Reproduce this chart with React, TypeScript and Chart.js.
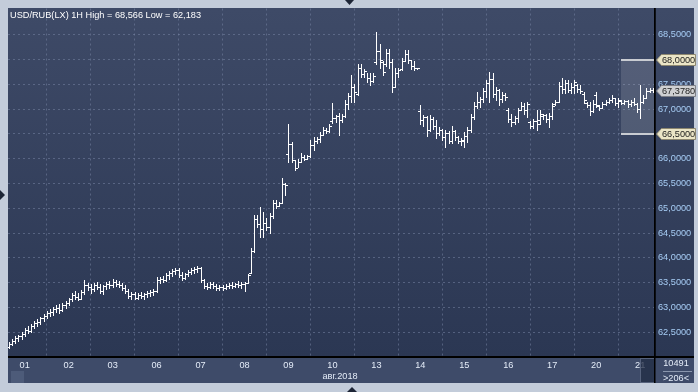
import { useEffect, useRef } from 'react';
import { Chart, registerables } from 'chart.js';

Chart.register(...registerables);

// ---------- data ----------
const titleText = 'USD/RUB(LX) 1H High = 68,566 Low = 62,183';
const monthLabel = 'авг.2018';
const dayLabels = ['01', '02', '03', '06', '07', '08', '09', '10', '13', '14', '15', '16', '17', '20', '21'];
const dayStartIndex = [5, 19, 33, 47, 61, 75, 89, 103, 117, 131, 145, 159, 173, 187, 201];
const yTicks = [62.5, 63.0, 63.5, 64.0, 64.5, 65.0, 65.5, 66.0, 66.5, 67.0, 67.5, 68.0, 68.5];
const rangeLevels = [68.0, 66.5];
const rangeStartIndex = 194.9;
const lastPrice = 67.378;
const barsTotal = '10491';
const barsVisible = '>206<';

const opens = [
  62.20, 62.26, 62.33, 62.38, 62.42,
  62.46, 62.55, 62.52, 62.63, 62.68, 62.70, 62.78, 62.82, 62.88, 62.90, 62.96, 62.99, 62.94, 63.04,
  63.08, 63.16, 63.26, 63.22, 63.18, 63.32, 63.46, 63.42, 63.38, 63.46, 63.42, 63.34, 63.44, 63.48,
  63.46, 63.52, 63.48, 63.46, 63.40, 63.34, 63.24, 63.28, 63.20, 63.26, 63.24, 63.28, 63.30, 63.32,
  63.34, 63.56, 63.58, 63.56, 63.66, 63.70, 63.74, 63.76, 63.66, 63.60, 63.68, 63.72, 63.76, 63.78,
  63.80, 63.56, 63.44, 63.42, 63.48, 63.44, 63.40, 63.42, 63.40, 63.44, 63.46, 63.44, 63.48, 63.46,
  63.48, 63.50, 63.70, 64.14, 64.78, 64.68, 64.58, 64.70, 64.62, 64.84, 65.10, 65.04, 65.10, 65.50,
  66.10, 66.30, 65.98, 65.82, 65.94, 66.04, 66.00, 66.06, 66.28, 66.36, 66.40, 66.48, 66.58, 66.56,
  66.76, 66.82, 66.86, 66.78, 66.86, 67.10, 67.26, 67.44, 67.30, 67.84, 67.70, 67.76, 67.62, 67.56,
  67.96, 68.18, 67.96, 67.92, 68.14, 67.96, 67.44, 67.72, 67.80, 67.98, 68.12, 68.00, 67.88, 67.83,
  66.96, 66.78, 66.84, 66.58, 66.80, 66.66, 66.52, 66.58, 66.44, 66.52, 66.36, 66.56, 66.44, 66.36,
  66.36, 66.46, 66.58, 66.84, 67.06, 67.14, 67.20, 67.36, 67.52, 67.60, 67.30, 67.38, 67.20, 67.28,
  66.98, 66.80, 66.74, 66.82, 66.98, 67.06, 66.98, 66.74, 66.66, 66.76, 66.78, 66.86, 66.88, 66.80,
  66.86, 67.10, 67.14, 67.46, 67.40, 67.52, 67.38, 67.44, 67.48, 67.40, 67.30, 67.12, 67.08, 66.96,
  67.28, 67.06, 67.02, 67.10, 67.14, 67.18, 67.22, 67.12, 67.16, 67.12, 67.16, 67.10, 67.14, 67.10,
  67.00, 67.14, 67.22, 67.36, 67.38,
];
const highs = [
  62.30, 62.36, 62.42, 62.45, 62.50,
  62.58, 62.62, 62.66, 62.72, 62.76, 62.80, 62.86, 62.92, 62.96, 63.00, 63.04, 63.06, 63.08, 63.12,
  63.20, 63.30, 63.34, 63.30, 63.36, 63.56, 63.50, 63.48, 63.50, 63.52, 63.48, 63.46, 63.52, 63.54,
  63.58, 63.56, 63.54, 63.50, 63.46, 63.38, 63.32, 63.32, 63.30, 63.32, 63.30, 63.34, 63.36, 63.38,
  63.62, 63.62, 63.64, 63.70, 63.74, 63.78, 63.80, 63.80, 63.72, 63.70, 63.76, 63.80, 63.82, 63.84,
  63.82, 63.58, 63.50, 63.52, 63.52, 63.48, 63.46, 63.46, 63.48, 63.50, 63.52, 63.50, 63.54, 63.52,
  63.52, 63.68, 64.20, 64.86, 64.86, 65.02, 64.92, 64.80, 64.90, 65.16, 65.16, 65.12, 65.62, 65.52,
  66.71, 66.33, 65.98, 65.99, 66.12, 66.08, 66.08, 66.37, 66.43, 66.43, 66.53, 66.63, 66.61, 66.71,
  67.12, 66.88, 66.93, 66.91, 67.18, 67.32, 67.68, 67.50, 67.92, 67.92, 67.82, 67.72, 67.72, 67.72,
  68.566, 68.32, 67.98, 68.22, 68.22, 68.02, 67.84, 67.84, 68.04, 68.20, 68.20, 68.00, 67.98, 67.84,
  67.08, 66.88, 66.86, 66.88, 66.84, 66.78, 66.64, 66.60, 66.58, 66.56, 66.66, 66.58, 66.46, 66.42,
  66.53, 66.63, 66.91, 67.14, 67.34, 67.24, 67.42, 67.58, 67.74, 67.72, 67.44, 67.40, 67.34, 67.32,
  67.02, 66.91, 66.87, 67.02, 67.14, 67.12, 67.14, 66.77, 66.81, 66.98, 66.98, 66.91, 66.91, 66.93,
  67.12, 67.18, 67.54, 67.62, 67.58, 67.58, 67.52, 67.58, 67.50, 67.48, 67.34, 67.14, 67.14, 67.18,
  67.34, 67.08, 67.14, 67.18, 67.22, 67.28, 67.22, 67.22, 67.18, 67.18, 67.18, 67.18, 67.22, 67.12,
  67.48, 67.28, 67.42, 67.42, 67.42,
];
const lows = [
  62.183, 62.24, 62.28, 62.33, 62.36,
  62.42, 62.48, 62.50, 62.58, 62.62, 62.66, 62.72, 62.78, 62.82, 62.84, 62.90, 62.88, 62.92, 62.98,
  63.04, 63.12, 63.18, 63.14, 63.16, 63.28, 63.36, 63.30, 63.34, 63.38, 63.30, 63.28, 63.38, 63.40,
  63.42, 63.44, 63.42, 63.36, 63.30, 63.20, 63.18, 63.16, 63.16, 63.20, 63.18, 63.22, 63.24, 63.26,
  63.32, 63.50, 63.52, 63.54, 63.58, 63.64, 63.68, 63.62, 63.56, 63.58, 63.64, 63.68, 63.70, 63.72,
  63.52, 63.40, 63.38, 63.40, 63.40, 63.36, 63.36, 63.36, 63.38, 63.40, 63.40, 63.42, 63.42, 63.40,
  63.34, 63.50, 63.70, 64.12, 64.62, 64.42, 64.42, 64.56, 64.50, 64.80, 65.00, 65.04, 65.10, 65.26,
  65.93, 65.93, 65.77, 65.83, 65.93, 65.97, 65.99, 66.04, 66.17, 66.31, 66.33, 66.47, 66.51, 66.53,
  66.72, 66.74, 66.47, 66.74, 66.84, 67.00, 67.14, 67.14, 67.28, 67.64, 67.64, 67.54, 67.48, 67.54,
  67.92, 67.84, 67.68, 67.88, 67.84, 67.34, 67.44, 67.64, 67.78, 67.98, 67.94, 67.82, 67.78, 67.82,
  66.70, 66.66, 66.46, 66.56, 66.60, 66.42, 66.48, 66.38, 66.24, 66.32, 66.32, 66.38, 66.32, 66.28,
  66.23, 66.33, 66.53, 66.81, 67.02, 67.04, 67.14, 67.24, 67.14, 67.24, 67.18, 67.08, 67.14, 67.18,
  66.74, 66.67, 66.71, 66.74, 66.98, 66.91, 66.84, 66.61, 66.62, 66.57, 66.70, 66.81, 66.74, 66.63,
  66.81, 67.08, 67.14, 67.32, 67.32, 67.34, 67.32, 67.32, 67.34, 67.32, 67.12, 67.04, 66.88, 66.94,
  67.04, 66.98, 67.02, 67.08, 67.12, 67.14, 67.08, 67.04, 67.10, 67.10, 67.04, 67.06, 67.08, 66.94,
  66.83, 67.12, 67.22, 67.34, 67.34,
];
const closes = [
  62.26, 62.33, 62.38, 62.42, 62.46,
  62.55, 62.52, 62.63, 62.68, 62.70, 62.78, 62.82, 62.88, 62.90, 62.96, 62.99, 62.94, 63.04, 63.08,
  63.16, 63.26, 63.22, 63.18, 63.32, 63.46, 63.42, 63.38, 63.46, 63.42, 63.34, 63.44, 63.48, 63.46,
  63.52, 63.48, 63.46, 63.40, 63.34, 63.24, 63.28, 63.20, 63.26, 63.24, 63.28, 63.30, 63.32, 63.34,
  63.56, 63.58, 63.56, 63.66, 63.70, 63.74, 63.76, 63.66, 63.60, 63.68, 63.72, 63.76, 63.78, 63.80,
  63.56, 63.44, 63.42, 63.48, 63.44, 63.40, 63.42, 63.40, 63.44, 63.46, 63.44, 63.48, 63.46, 63.48,
  63.50, 63.66, 64.14, 64.78, 64.68, 64.58, 64.70, 64.62, 64.84, 65.10, 65.04, 65.10, 65.50, 65.46,
  66.30, 65.98, 65.82, 65.94, 66.04, 66.00, 66.06, 66.28, 66.36, 66.40, 66.48, 66.58, 66.56, 66.66,
  66.82, 66.86, 66.78, 66.86, 67.10, 67.26, 67.44, 67.34, 67.84, 67.70, 67.76, 67.62, 67.56, 67.66,
  68.18, 68.00, 67.74, 68.14, 67.96, 67.44, 67.72, 67.78, 67.98, 68.12, 68.00, 67.88, 67.84, 67.83,
  66.78, 66.84, 66.58, 66.80, 66.66, 66.52, 66.58, 66.44, 66.52, 66.36, 66.56, 66.44, 66.36, 66.38,
  66.46, 66.58, 66.84, 67.06, 67.14, 67.20, 67.36, 67.52, 67.60, 67.30, 67.38, 67.20, 67.28, 67.24,
  66.80, 66.74, 66.82, 66.98, 67.06, 66.98, 67.10, 66.66, 66.76, 66.70, 66.90, 66.88, 66.80, 66.86,
  67.06, 67.14, 67.46, 67.40, 67.52, 67.38, 67.44, 67.54, 67.40, 67.36, 67.18, 67.08, 66.96, 67.10,
  67.08, 67.02, 67.10, 67.14, 67.18, 67.22, 67.12, 67.18, 67.12, 67.16, 67.10, 67.14, 67.10, 67.00,
  67.14, 67.22, 67.36, 67.38, 67.378,
];

// ---------- helpers ----------
const FONT = '"Liberation Sans", Arial, sans-serif';
const fmt4 = (v: number) => v.toFixed(4).replace('.', ',');

function drawTag(ctx: CanvasRenderingContext2D, y: number, text: string, fill: string, stroke: string) {
  const x0 = 656.5, x1 = 661.5, x2 = 695.5, h = 11;
  const t = Math.round(y - h / 2) + 0.5;
  const b = t + h;
  const m = (t + b) / 2;
  ctx.beginPath();
  ctx.moveTo(x0, m);
  ctx.lineTo(x1, t);
  ctx.lineTo(x2, t);
  ctx.lineTo(x2, b);
  ctx.lineTo(x1, b);
  ctx.closePath();
  ctx.fillStyle = fill;
  ctx.fill();
  ctx.strokeStyle = stroke;
  ctx.lineWidth = 1;
  ctx.stroke();
  ctx.fillStyle = '#1c1c1c';
  ctx.font = `9.2px ${FONT}`;
  ctx.textAlign = 'left';
  ctx.textBaseline = 'middle';
  ctx.fillText(text, 662, m + 0.5);
}

const backgroundPlugin = {
  id: 'terminalBackground',
  beforeDraw(chart: any) {
    const { ctx, chartArea } = chart;
    const W = chart.width, H = chart.height;
    ctx.save();
    ctx.fillStyle = '#c3ccda';
    ctx.fillRect(0, 0, W, H);
    const g = ctx.createLinearGradient(0, chartArea.top, 0, chartArea.bottom);
    g.addColorStop(0, '#3e4a67');
    g.addColorStop(1, '#2b3753');
    ctx.fillStyle = g;
    ctx.fillRect(8, 8, 686, chartArea.bottom - 8);
    ctx.fillStyle = '#3e4b69';
    ctx.fillRect(8, chartArea.bottom, 686, 383 - chartArea.bottom);
    ctx.restore();
  },
};

const ohlcPlugin = {
  id: 'ohlcBars',
  afterDatasetsDraw(chart: any) {
    const { ctx, chartArea, scales } = chart;
    const xs = scales.x, ys = scales.y;
    ctx.save();
    ctx.beginPath();
    ctx.rect(chartArea.left, chartArea.top, chartArea.width, chartArea.height);
    ctx.clip();
    ctx.fillStyle = '#ffffff';
    for (let i = 0; i < highs.length; i++) {
      const x = Math.round(xs.getPixelForValue(i));
      const yh = Math.round(ys.getPixelForValue(highs[i]));
      const yl = Math.round(ys.getPixelForValue(lows[i]));
      const yo = Math.round(ys.getPixelForValue(opens[i]));
      const yc = Math.round(ys.getPixelForValue(closes[i]));
      ctx.fillRect(x, yh, 1, Math.max(1, yl - yh + 1));
      ctx.fillRect(x - 2, yo, 2, 1);
      ctx.fillRect(x + 1, yc, 2, 1);
    }
    ctx.restore();
  },
};

const overlayPlugin = {
  id: 'terminalOverlay',
  afterDraw(chart: any) {
    const { ctx, chartArea, scales } = chart;
    const ys = scales.y, xs = scales.x;
    ctx.save();
    // title
    ctx.font = `9.2px ${FONT}`;
    ctx.fillStyle = '#ffffff';
    ctx.textAlign = 'left';
    ctx.textBaseline = 'middle';
    ctx.fillText(titleText, 10, 15.5);

    // range box
    const bx = Math.round(xs.getPixelForValue(rangeStartIndex));
    const yTop = Math.round(ys.getPixelForValue(rangeLevels[0]));
    const yBot = Math.round(ys.getPixelForValue(rangeLevels[1]));
    ctx.fillStyle = 'rgba(255,255,255,0.13)';
    ctx.fillRect(bx, yTop, chartArea.right - bx, yBot - yTop);
    ctx.fillStyle = '#c9ccd2';
    ctx.fillRect(bx, yTop - 1, chartArea.right - bx, 2);
    ctx.fillRect(bx, yBot - 1, chartArea.right - bx, 2);

    // price tags
    drawTag(ctx, ys.getPixelForValue(rangeLevels[0]), fmt4(rangeLevels[0]), '#ebe5c6', '#8d8770');
    drawTag(ctx, ys.getPixelForValue(rangeLevels[1]), fmt4(rangeLevels[1]), '#ebe5c6', '#8d8770');
    drawTag(ctx, ys.getPixelForValue(lastPrice), fmt4(lastPrice), '#cfd0d2', '#7d8088');

    // bottom axis line across full width
    ctx.fillStyle = '#000000';
    ctx.fillRect(8, Math.round(chartArea.bottom) - 1, 686, 2);

    // month label
    ctx.font = `9.2px ${FONT}`;
    ctx.fillStyle = '#e4ecf8';
    ctx.textAlign = 'center';
    ctx.fillText(monthLabel, 340, 376.5);

    // bar counters
    ctx.fillText(barsTotal, 676, 363.5);
    ctx.fillText(barsVisible, 676, 378);
    ctx.fillStyle = '#8a96ad';
    ctx.fillRect(663, 371, 29, 1);

    // scroller thumbs
    ctx.fillStyle = 'rgba(34,44,68,0.75)';
    ctx.fillRect(640, 358, 15, 25);
    ctx.strokeStyle = '#56627c';
    ctx.lineWidth = 1;
    ctx.strokeRect(640.5, 358.5, 14, 24);
    ctx.fillStyle = '#4d5b79';
    ctx.fillRect(11, 371, 13, 12);

    // right axis vertical line down through bottom panel
    ctx.fillStyle = '#000000';
    ctx.fillRect(Math.round(chartArea.right) - 1, 8, 1.5, 375);

    // frame markers
    ctx.fillStyle = '#1d2536';
    ctx.beginPath();
    ctx.moveTo(345, 0); ctx.lineTo(354, 0); ctx.lineTo(349.5, 5); ctx.closePath(); ctx.fill();
    ctx.beginPath();
    ctx.moveTo(347, 392); ctx.lineTo(357, 392); ctx.lineTo(352, 387); ctx.closePath(); ctx.fill();
    ctx.beginPath();
    ctx.moveTo(0, 190); ctx.lineTo(0, 200); ctx.lineTo(5, 195); ctx.closePath(); ctx.fill();
    ctx.restore();
  },
};

export default function App() {
  const ref = useRef<HTMLCanvasElement | null>(null);

  useEffect(() => {
    document.body.style.margin = '0';
    const canvas = ref.current;
    if (!canvas) return;
    Chart.defaults.font.family = FONT;

    const chart = new Chart(canvas, {
      type: 'bar',
      data: {
        datasets: [
          {
            label: 'USD/RUB(LX) 1H',
            data: highs.map((h, i) => ({ x: i, y: [lows[i], h] })) as any,
            backgroundColor: 'rgba(0,0,0,0)',
            borderWidth: 0,
            barThickness: 1,
          },
        ],
      },
      options: {
        animation: false,
        responsive: false,
        events: [],
        layout: { padding: { left: 8, top: 8, right: 4, bottom: 9 } },
        plugins: { legend: { display: false }, tooltip: { enabled: false }, title: { display: false } },
        scales: {
          x: {
            type: 'linear',
            position: 'bottom',
            min: -0.32,
            max: 205.73,
            offset: false,
            afterBuildTicks: (scale: any) => {
              scale.ticks = dayStartIndex.map((v) => ({ value: v }));
            },
            afterFit: (scale: any) => {
              scale.height = 26;
            },
            ticks: {
              autoSkip: false,
              maxRotation: 0,
              padding: 3,
              color: '#e4ecf8',
              font: { size: 9.2, family: FONT },
              callback: (value: any) => {
                const k = dayStartIndex.indexOf(Number(value));
                return k >= 0 ? dayLabels[k] : '';
              },
            },
            grid: {
              color: 'rgba(118,132,162,0.55)',
              lineWidth: 1,
              drawTicks: false,
            },
            border: { display: true, color: '#000000', width: 1, dash: [2, 3] },
          },
          y: {
            type: 'linear',
            position: 'right',
            min: 62.0,
            max: 69.03,
            afterBuildTicks: (scale: any) => {
              scale.ticks = yTicks.map((v) => ({ value: v }));
            },
            afterFit: (scale: any) => {
              scale.width = 39;
            },
            ticks: {
              padding: 3,
              color: '#a7cdf5',
              font: { size: 9.2, family: FONT },
              callback: (value: any) => fmt4(Number(value)),
            },
            grid: {
              color: 'rgba(118,132,162,0.55)',
              lineWidth: 1,
              drawTicks: false,
            },
            border: { display: true, color: '#000000', width: 1.5, dash: [2, 3] },
          },
        },
      },
      plugins: [backgroundPlugin, ohlcPlugin, overlayPlugin],
    });

    return () => chart.destroy();
  }, []);

  return (
    <div style={{ width: 698, height: 392, position: 'relative' }}>
      <canvas ref={ref} width={698} height={392} style={{ display: 'block', position: 'absolute', left: 0, top: 0 }} />
    </div>
  );
}
